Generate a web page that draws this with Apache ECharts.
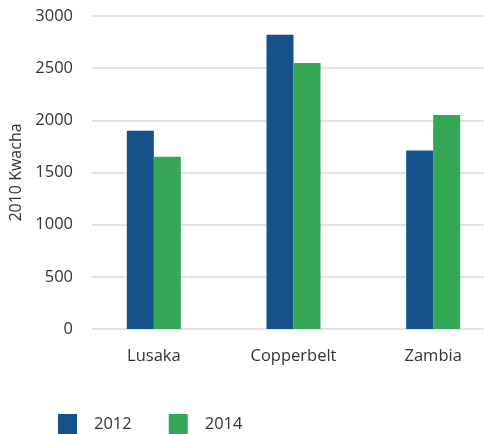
<!DOCTYPE html>
<html>
<head>
<meta charset="utf-8">
<script src="https://cdn.jsdelivr.net/npm/echarts@6/dist/echarts.min.js"></script>
<style>
  html, body { margin: 0; padding: 0; background: #fff; }
  #chart { width: 484px; height: 434px; }
</style>
</head>
<body>
<div id="chart"></div>
<script>
const regions = ['Lusaka', 'Copperbelt', 'Zambia']
const values2012 = [1900, 2820, 1710]
const values2014 = [1650, 2550, 2050]
const yTicks = [0, 500, 1000, 1500, 2000, 2500, 3000]

const font = '"Open Sans", "Noto Sans", sans-serif'
const textColor = '#333333'
const gridColor = '#d9d9d9'

const chart = echarts.init(document.getElementById('chart'))

const yMin = yTicks[0]
const yMax = yTicks[yTicks.length - 1]
const yStep = yTicks[1] - yTicks[0]

const option = {
  animation: false,
  textStyle: { fontFamily: font },
  grid: [
    // bars (plot area runs past the right edge of the picture)
    { left: 84, width: 419, top: 16, bottom: 105, outerBoundsMode: 'none' },
    // gridlines + y labels
    { left: 92, right: 0, top: 16, bottom: 105, outerBoundsMode: 'none' },
  ],
  legend: {
    left: 58,
    top: 414,
    padding: 0,
    itemWidth: 19,
    itemHeight: 20,
    itemGap: 37,
    icon: 'rect',
    textStyle: { color: textColor, fontSize: 16.5, fontFamily: font, padding: [0, 0, 0, 12] },
    data: ['2012', '2014'],
  },
  xAxis: [
    {
      gridIndex: 0,
      type: 'category',
      data: regions,
      axisLine: { show: false },
      axisTick: { show: false },
      axisLabel: { color: textColor, fontSize: 16.5, fontFamily: font, margin: 19 },
    },
    { gridIndex: 1, type: 'value', show: false },
  ],
  yAxis: [
    { gridIndex: 0, type: 'value', min: yMin, max: yMax, interval: yStep, show: false },
    {
      gridIndex: 1,
      type: 'value',
      min: yMin,
      max: yMax,
      interval: yStep,
      name: '2010 Kwacha',
      nameLocation: 'middle',
      nameGap: 60,
      nameTextStyle: { color: textColor, fontSize: 16, fontFamily: font },
      axisLine: { show: false },
      axisTick: { show: false },
      axisLabel: { color: textColor, fontSize: 16.5, fontFamily: font, margin: 19, formatter: v => String(v) },
      splitLine: { lineStyle: { color: gridColor, width: 1.5 } },
    },
  ],
  series: [
    {
      name: '2012',
      type: 'bar',
      xAxisIndex: 0,
      yAxisIndex: 0,
      data: values2012,
      barWidth: 27,
      barGap: '0%',
      itemStyle: { color: '#15528a' },
      z: 3,
    },
    {
      name: '2014',
      type: 'bar',
      xAxisIndex: 0,
      yAxisIndex: 0,
      data: values2014,
      barWidth: 27,
      barGap: '0%',
      itemStyle: { color: '#35a855' },
      z: 3,
    },
  ],
}

chart.setOption(option)
</script>
</body>
</html>
